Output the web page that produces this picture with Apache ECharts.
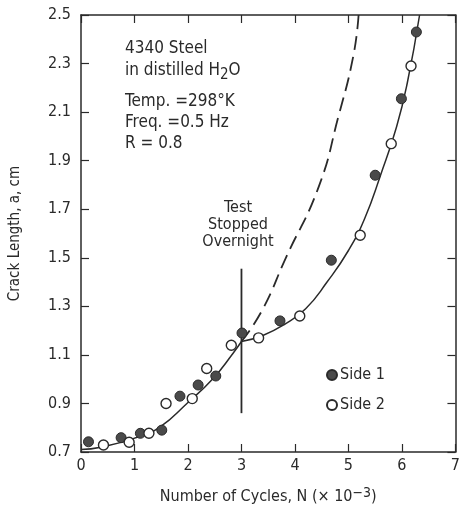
<!DOCTYPE html>
<html>
<head>
<meta charset="utf-8">
<script src="https://cdn.jsdelivr.net/npm/echarts@6/dist/echarts.min.js"></script>
<style>
  html, body { margin: 0; padding: 0; background: #fff; }
  #chart { width: 463px; height: 512px; }
</style>
</head>
<body>
<div id="chart"></div>
<script>
// Side 1 (filled) and Side 2 (open) readings, N in thousands of cycles
const side1N = [0.14, 0.75, 1.11, 1.51, 1.85, 2.19, 2.52, 3.01, 3.72, 4.68, 5.50, 5.99, 6.27];
const side1A = [0.742, 0.759, 0.777, 0.79, 0.93, 0.976, 1.013, 1.19, 1.24, 1.49, 1.84, 2.155, 2.43];
const side2N = [0.42, 0.90, 1.27, 1.59, 2.08, 2.35, 2.81, 3.32, 4.09, 5.22, 5.80, 6.17];
const side2A = [0.729, 0.74, 0.777, 0.90, 0.92, 1.044, 1.14, 1.17, 1.26, 1.593, 1.97, 2.29];

// fitted curve up to the stop, and after the stop
const fitBeforeN = [0, 0.37, 0.99, 1.48, 1.98, 2.47, 2.84, 3.0];
const fitBeforeA = [0.71, 0.72, 0.756, 0.804, 0.90, 1.003, 1.106, 1.155];
const fitAfterN = [3.0, 3.4, 3.8, 4.2, 4.6, 5.0, 5.3, 5.6, 5.9, 6.1, 6.33];
const fitAfterA = [1.155, 1.18, 1.225, 1.29, 1.40, 1.53, 1.66, 1.84, 2.04, 2.22, 2.5];

// extrapolated (no stop) curve
const noStopN = [3.0, 3.39, 3.83, 4.44, 4.81, 5.09, 5.19];
const noStopA = [1.155, 1.285, 1.50, 1.79, 2.08, 2.33, 2.5];

// vertical marker where the test was stopped
const stopN = [3.0, 3.0];
const stopA = [0.86, 1.455];

const xTicks = [0, 1, 2, 3, 4, 5, 6, 7];

const zip = (xs, ys) => xs.map((x, i) => [x, ys[i]]);
const font = "'DejaVu Sans Condensed', 'Liberation Sans Narrow', sans-serif";
const ink = '#2a2a2a';

const chart = echarts.init(document.getElementById('chart'));

const axisCommon = {
    axisLine: { show: true, onZero: false, lineStyle: { color: ink, width: 1.5 } },
    axisTick: { show: true, inside: true, length: 8, lineStyle: { color: ink, width: 1.2 } },
    splitLine: { show: false }
};

chart.setOption({
    animation: false,
    backgroundColor: '#fff',
    textStyle: { fontFamily: font, color: ink },
    grid: { left: 80, right: 5, top: 15, bottom: 60 },
    legend: {
        data: ['Side 1', 'Side 2'],
        orient: 'vertical',
        left: 321,
        top: 362,
        itemWidth: 10,
        itemHeight: 10,
        itemGap: 14,
        textStyle: { fontFamily: font, fontSize: 16, color: ink, padding: [0, 0, 0, -2] }
    },
    xAxis: [
        Object.assign({
            type: 'value', min: 0, max: xTicks[xTicks.length - 1], interval: 1, position: 'bottom',
            name: 'Number of Cycles, N {p|(}× 10{sup|−3}{p|)}',
            nameLocation: 'middle', nameGap: 34,
            nameTextStyle: {
                fontFamily: font, fontSize: 16, color: ink,
                rich: {
                    sup: { fontSize: 14, verticalAlign: 'top', padding: [0, 0, 8, 0], fontFamily: font, color: ink },
                    p: { fontSize: 16, fontFamily: font, color: ink }
                }
            },
            axisLabel: { fontSize: 16, margin: 6, color: ink }
        }, axisCommon),
        Object.assign({
            type: 'value', min: 0, max: 7, interval: 1, position: 'top',
            axisLabel: { show: false }
        }, axisCommon)
    ],
    yAxis: [
        Object.assign({
            type: 'value', min: 0.7, max: 2.5, interval: 0.2, position: 'left',
            name: 'Crack Length, a, cm',
            nameLocation: 'middle', nameGap: 58,
            nameTextStyle: { fontFamily: font, fontSize: 15, color: ink },
            axisLabel: { fontSize: 16, margin: 10, color: ink, formatter: v => v.toFixed(1) }
        }, axisCommon),
        Object.assign({
            type: 'value', min: 0.7, max: 2.5, interval: 0.2, position: 'right',
            axisLabel: { show: false }
        }, axisCommon)
    ],
    series: [
        {
            name: 'fit before', type: 'line', smooth: true, symbol: 'none',
            data: zip(fitBeforeN, fitBeforeA),
            lineStyle: { color: ink, width: 1.5 }, z: 2
        },
        {
            name: 'fit after', type: 'line', smooth: true, symbol: 'none',
            data: zip(fitAfterN, fitAfterA),
            lineStyle: { color: ink, width: 1.5 }, z: 2
        },
        {
            name: 'no stop', type: 'line', smooth: true, symbol: 'none',
            data: zip(noStopN, noStopA),
            lineStyle: { color: ink, width: 1.8, type: [14, 7] }, z: 2
        },
        {
            name: 'stop', type: 'line', symbol: 'none',
            data: zip(stopN, stopA),
            lineStyle: { color: ink, width: 1.8 }, z: 2
        },
        {
            name: 'Side 1', type: 'scatter', symbol: 'circle', symbolSize: 10,
            data: zip(side1N, side1A),
            itemStyle: { color: '#4a4a4a', borderColor: '#2a2a2a', borderWidth: 1, opacity: 1 }, z: 5
        },
        {
            name: 'Side 2', type: 'scatter', symbol: 'circle', symbolSize: 10,
            data: zip(side2N, side2A),
            itemStyle: { color: '#fff', borderColor: '#2a2a2a', borderWidth: 1.4, opacity: 1 }, z: 5
        }
    ],
    graphic: [
        { type: 'text', left: 125, top: 40, style: { text: '4340 Steel', font: '17px ' + font, fill: ink } },
        {
            type: 'text', left: 125, top: 62,
            style: {
                text: 'in distilled H{sub|2}O', font: '17px ' + font, fill: ink,
                rich: { sub: { font: '15px ' + font, fill: ink, padding: [10, 0, 0, 0] } }
            }
        },
        { type: 'text', left: 125, top: 93, style: { text: 'Temp. =298°K', font: '17px ' + font, fill: ink } },
        { type: 'text', left: 125, top: 114, style: { text: 'Freq. =0.5 Hz', font: '17px ' + font, fill: ink } },
        { type: 'text', left: 125, top: 135, style: { text: 'R = 0.8', font: '17px ' + font, fill: ink } },
        {
            type: 'text', x: 238, y: 199,
            style: { text: 'Test\nStopped\nOvernight', font: '16px ' + font, fill: ink, align: 'center', lineHeight: 17 }
        }
    ]
});
</script>
</body>
</html>
